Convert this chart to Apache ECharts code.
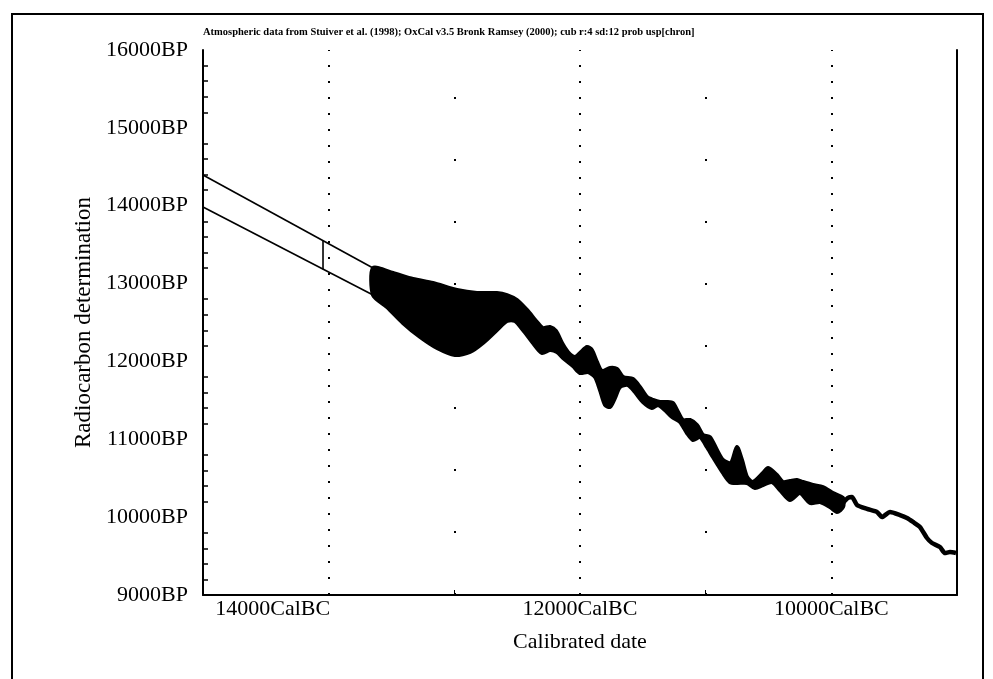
<!DOCTYPE html>
<html><head><meta charset="utf-8">
<script src="https://cdn.jsdelivr.net/npm/echarts@6/dist/echarts.min.js"></script>
<style>html,body{margin:0;padding:0;background:#fff}#c{width:993px;height:679px}</style>
</head><body><div id="c"></div>
<script>
// Axis ticks / labels
const xLabelValues = [14000, 12000, 10000];
const xTickValues = [13000, 11000];
const gridMajorYears = [14000, 12000, 10000];
const gridMinorYears = [13000, 11000];
const titleText = 'Atmospheric data from Stuiver et al. (1998); OxCal v3.5 Bronk Ramsey (2000); cub r:4 sd:12 prob usp[chron]';

// Straight envelope before the curve data (CalBC, BP)
const envCal = [15000, 13647];
const envUpperBP = [14394, 13200];
const envLowerBP = [13983, 12853];
const markerCal = [14045, 14045];
const markerBP = [13551, 13185];

// Calibration curve band: upper edge
const upperCal = [13647,13488,13329,13170,12979,12820,12661,12581,12501,12422,12342,12295,12239,12191,12143,12096,12040,11992,11944,11905,11865,11825,11761,11706,11658,11578,11523,11467,11419,11364,11308,11260,11228,11181,11125,11069,11021,10966,10910,10862,10799,10751,10711,10671,10624,10544,10504,10433,10385,10329,10273,10226,10146,10067,9987,9907];
const upperBP = [13200,13136,13059,13007,12917,12879,12879,12853,12789,12661,12506,12429,12442,12391,12237,12121,12057,12121,12185,12147,11993,11877,11916,11903,11800,11774,11672,11543,11505,11479,11479,11466,11376,11248,11248,11183,11055,11029,10862,10734,10695,10901,10734,10516,10451,10567,10631,10541,10451,10464,10477,10451,10413,10387,10310,10246];
// lower edge
const lowerCal = [13647,13536,13409,13273,13138,12995,12875,12772,12661,12581,12517,12454,12374,12303,12239,12183,12135,12056,12000,11937,11881,11841,11801,11761,11722,11682,11618,11563,11499,11427,11380,11324,11268,11205,11149,11101,11045,10990,10942,10862,10807,10751,10671,10608,10544,10472,10409,10329,10250,10170,10090,10011,9955,9907];
const lowerBP = [12853,12699,12494,12314,12172,12083,12121,12237,12404,12519,12519,12404,12237,12108,12147,12121,12044,11941,11851,11864,11800,11633,11440,11415,11530,11672,11697,11607,11479,11402,11440,11376,11286,11222,11081,10991,11029,10901,10772,10567,10451,10439,10439,10374,10413,10451,10349,10220,10310,10182,10194,10130,10066,10130];
// narrow tail of the curve
const tailCal = [9907,9868,9836,9796,9716,9637,9597,9533,9454,9398,9350,9295,9239,9199,9136,9096,9056,9008];
const tailBP = [10182,10246,10259,10156,10105,10066,10002,10066,10027,9989,9938,9873,9732,9668,9616,9539,9552,9539];

const FONT = '"Liberation Serif", "DejaVu Serif", serif';
const zip = (a, b) => a.map((v, i) => [v, b[i]]);

const chart = echarts.init(document.getElementById('c'), null, {renderer: 'canvas'});
chart.setOption({
  backgroundColor: '#fff',
  animation: false,
  title: {
    text: titleText, left: 203, top: 27, padding: 0,
    textStyle: {fontSize: 10.5, fontWeight: 'bold', fontFamily: FONT, color: '#000'}
  },
  graphic: [{
    type: 'rect', shape: {x: 12, y: 14, width: 971, height: 690},
    style: {fill: 'none', stroke: '#000', lineWidth: 2}, silent: true
  }],
  grid: {left: 203, right: 36, top: 50, bottom: 84},
  xAxis: {
    type: 'value', inverse: true, min: 9000, max: 15000,
    name: 'Calibrated date', nameLocation: 'middle', nameGap: 36,
    nameTextStyle: {fontSize: 22, fontFamily: FONT, color: '#000'},
    axisLine: {show: true, lineStyle: {color: '#000', width: 2}},
    axisTick: {show: true, inside: true, length: 5, customValues: xTickValues, lineStyle: {color: '#000'}},
    axisLabel: {
      customValues: xLabelValues, margin: 3, fontSize: 22, fontFamily: FONT, color: '#000',
      formatter: v => (v === 14000 ? '{s|' + v + 'CalBC}' : v + 'CalBC'),
      rich: {s: {fontSize: 22, fontFamily: FONT, color: '#000', padding: [0, 112, 0, 0]}}
    },
    splitLine: {show: false}
  },
  yAxis: [{
    type: 'value', min: 9000, max: 16000, interval: 1000,
    name: 'Radiocarbon determination', nameLocation: 'middle', nameGap: 97,
    nameTextStyle: {fontSize: 23, fontFamily: FONT, color: '#000'},
    axisLine: {show: true, lineStyle: {color: '#000', width: 2}},
    axisTick: {show: false, inside: true},
    minorTick: {show: true, splitNumber: 5, length: 5, lineStyle: {color: '#000', width: 1.5}},
    axisLabel: {margin: 15, fontSize: 22, fontFamily: FONT, color: '#000', formatter: v => v + 'BP'},
    splitLine: {show: false}
  }, {
    type: 'value', position: 'right', min: 9000, max: 16000, interval: 1000,
    axisLine: {show: true, onZero: false, lineStyle: {color: '#000', width: 2}},
    axisTick: {show: false}, axisLabel: {show: false}, splitLine: {show: false}
  }],
  series: [
    {
      type: 'line', name: 'grid', data: [], silent: true,
      markLine: {
        symbol: 'none', silent: true, label: {show: false},
        data: gridMajorYears.map(v => ({xAxis: v, lineStyle: {color: '#000', width: 2, type: [2, 14]}}))
          .concat(gridMinorYears.map(v => ({xAxis: v, lineStyle: {color: '#000', width: 2, type: [2, 60]}})))
      }
    },
    {type: 'line', data: zip(envCal, envUpperBP), symbol: 'none', lineStyle: {color: '#000', width: 1.6}},
    {type: 'line', data: zip(envCal, envLowerBP), symbol: 'none', lineStyle: {color: '#000', width: 1.6}},
    {type: 'line', data: zip(markerCal, markerBP), symbol: 'none', lineStyle: {color: '#000', width: 1.6}},
    {
      type: 'custom', data: [[upperCal[0], upperBP[0]]],
      renderItem: function (params, api) {
        const pts = [];
        for (let i = 0; i < upperCal.length; i++) pts.push(api.coord([upperCal[i], upperBP[i]]));
        for (let i = lowerCal.length - 1; i >= 0; i--) pts.push(api.coord([lowerCal[i], lowerBP[i]]));
        return {type: 'polygon', shape: {points: pts, smooth: 0.25}, style: {fill: '#000', stroke: '#000', lineWidth: 4, lineJoin: 'round'}};
      }
    },
    {type: 'line', data: zip(tailCal, tailBP), symbol: 'none', smooth: 0.2, lineStyle: {color: '#000', width: 4.5}}
  ]
});
</script></body></html>
